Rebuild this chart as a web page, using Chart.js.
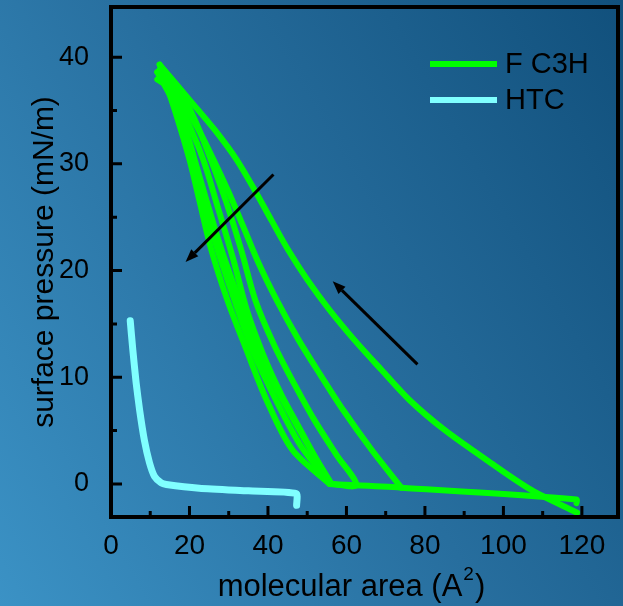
<!DOCTYPE html>
<html>
<head>
<meta charset="utf-8">
<script src="https://cdn.jsdelivr.net/npm/chart.js@4.4.1/dist/chart.umd.min.js"></script>
<style>
  html, body { margin: 0; padding: 0; }
  body {
    width: 623px; height: 606px; overflow: hidden;
    background: linear-gradient(60deg, #3b92c5 0%, #276e9e 50%, #11507c 100%);
  }
  canvas { display: block; }
</style>
</head>
<body>
<canvas id="isotherm" width="623" height="606"></canvas>
<script>
var comp1Area     = [118.8, 107.1, 95.7, 85.0, 76.05, 68.9, 62.0, 55.7, 50.1, 45.2, 40.9, 36.6, 32.0, 26.4, 20.0, 12.4];
var comp1Pressure = [-2.7, -0.56, 2.25, 5.06, 7.87, 10.7, 13.5, 16.3, 19.1, 21.9, 24.7, 27.55, 30.4, 33.2, 36.0, 39.3];
var exp1Area      = [12.4, 16.2, 20.0, 22.5, 25.6, 29.7, 34.5, 39.6, 46.2, 55.7];
var exp1Pressure  = [39.3, 35.1, 30.4, 26.6, 21.9, 17.2, 12.6, 7.9, 3.2, 0.0];
var baseArea      = [55.7, 74.0, 118.6, 118.6, 118.6];
var basePressure  = [0.0, -0.35, -1.45, -1.8, -1.45];
var comp2Area     = [74.0, 66.4, 59.2, 53.4, 47.8, 42.4, 37.6, 33.5, 29.9, 26.1, 22.0, 17.7, 13.6, 12.4];
var comp2Pressure = [-0.35, 3.2, 6.9, 10.2, 13.5, 17.1, 20.7, 24.3, 27.4, 30.4, 33.4, 36.0, 38.05, 38.8];
var exp2Area      = [12.9, 17.5, 21.3, 24.3, 28.2, 32.7, 37.3, 43.7, 50.1, 56.2];
var exp2Pressure  = [38.8, 35.1, 30.4, 26.6, 21.9, 17.2, 12.6, 7.9, 3.7, 0.0];
var comp3Area     = [56.2, 62.5, 57.5, 51.8, 46.8, 41.6, 36.8, 33.2, 29.2, 24.5, 20.1, 15.0, 11.8];
var comp3Pressure = [0.0, -0.1, 2.7, 6.0, 9.3, 13.0, 17.2, 21.9, 26.6, 31.3, 35.1, 37.9, 38.6];
var exp3Area      = [11.8, 16.8, 20.6, 23.5, 27.2, 31.5, 36.0, 42.0, 48.5, 56.0];
var exp3Pressure  = [38.6, 35.1, 30.4, 26.6, 21.9, 17.2, 12.6, 7.9, 3.5, 0.0];
var comp4Area     = [56.0, 52.5, 48.2, 43.5, 38.8, 34.6, 31.2, 27.4, 23.5, 19.3, 15.0, 11.8];
var comp4Pressure = [0.0, 2.2, 5.1, 8.3, 12.1, 16.3, 21.0, 25.7, 30.4, 34.1, 37.1, 37.9];

// HTC isotherm
var htcArea     = [4.9, 5.55, 6.4, 7.3, 8.5, 9.8, 11.1, 12.8, 14.1, 22.5, 35.0, 47.2, 47.3];
var htcPressure = [15.3, 12.6, 9.5, 6.9, 4.1, 2.0, 0.7, 0.1, -0.05, -0.4, -0.65, -0.9, -2.0];

// the two arrows (tail -> head), in data units
var arrowTailArea     = [41.4, 78.1];
var arrowTailPressure = [29.0, 11.2];
var arrowHeadArea     = [19.0, 56.5];
var arrowHeadPressure = [20.8, 19.0];

var areaTicks = [0, 20, 40, 60, 80, 100, 120];
var areaMinor = [10, 30, 50, 70, 90, 110];
var pressureTicks = [0, 10, 20, 30, 40];
var pressureMinor = [5, 15, 25, 35];

function pts(xs, ys) {
  return xs.map(function (x, i) { return { x: x, y: ys[i] }; });
}

var FONT = '"Liberation Sans", Arial, sans-serif';
var GREEN = '#00ff00', CYAN = '#80ffff';

function run(label, data, color, width, tension) {
  return {
    label: label, data: data, showLine: true,
    borderColor: color, backgroundColor: color, borderWidth: width,
    pointRadius: 0, borderJoinStyle: 'round', borderCapStyle: 'round', tension: tension
  };
}

var fc3hRuns = [
  [comp1Area, comp1Pressure], [exp1Area, exp1Pressure], [baseArea, basePressure],
  [comp2Area, comp2Pressure], [exp2Area, exp2Pressure],
  [comp3Area, comp3Pressure], [exp3Area, exp3Pressure], [comp4Area, comp4Pressure]
];
var datasets = fc3hRuns.map(function (r) { return run('F C3H', pts(r[0], r[1]), GREEN, 6, 0.3); });
datasets.push(run('HTC', pts(htcArea, htcPressure), CYAN, 7, 0.2));

var frame = {
  id: 'frame',
  afterDatasetsDraw: function (chart) {
    var ctx = chart.ctx, a = chart.chartArea, xs = chart.scales.x, ys = chart.scales.y;
    ctx.save();
    ctx.strokeStyle = '#000';
    ctx.fillStyle = '#000';

    // inward ticks
    ctx.lineWidth = 3;
    ctx.beginPath();
    areaTicks.forEach(function (v) { var p = xs.getPixelForValue(v); ctx.moveTo(p, a.bottom); ctx.lineTo(p, a.bottom - 11); });
    areaMinor.forEach(function (v) { var p = xs.getPixelForValue(v); ctx.moveTo(p, a.bottom); ctx.lineTo(p, a.bottom - 6); });
    pressureTicks.forEach(function (v) { var p = ys.getPixelForValue(v); ctx.moveTo(a.left, p); ctx.lineTo(a.left + 11, p); });
    pressureMinor.forEach(function (v) { var p = ys.getPixelForValue(v); ctx.moveTo(a.left, p); ctx.lineTo(a.left + 6, p); });
    ctx.stroke();

    // box
    ctx.lineWidth = 4;
    ctx.strokeRect(a.left, a.top, a.right - a.left, a.bottom - a.top);

    // arrows
    ctx.lineWidth = 3;
    arrowTailArea.forEach(function (v, i) {
      var x0 = xs.getPixelForValue(v), y0 = ys.getPixelForValue(arrowTailPressure[i]);
      var x1 = xs.getPixelForValue(arrowHeadArea[i]), y1 = ys.getPixelForValue(arrowHeadPressure[i]);
      var ang = Math.atan2(y1 - y0, x1 - x0);
      var bx = x1 - 13 * Math.cos(ang), by = y1 - 13 * Math.sin(ang);
      ctx.beginPath();
      ctx.moveTo(x0, y0);
      ctx.lineTo(bx, by);
      ctx.stroke();
      ctx.beginPath();
      ctx.moveTo(x1, y1);
      ctx.lineTo(bx + 5 * Math.sin(ang), by - 5 * Math.cos(ang));
      ctx.lineTo(bx - 5 * Math.sin(ang), by + 5 * Math.cos(ang));
      ctx.closePath();
      ctx.fill();
    });

    // legend, one entry per label
    ctx.font = '29px ' + FONT;
    ctx.textBaseline = 'middle';
    ctx.lineCap = 'butt';
    var seen = [];
    chart.data.datasets.forEach(function (ds) {
      if (seen.indexOf(ds.label) >= 0) return;
      var y = 64 + seen.length * 36;
      seen.push(ds.label);
      ctx.strokeStyle = ds.borderColor;
      ctx.lineWidth = 6;
      ctx.beginPath();
      ctx.moveTo(430, y);
      ctx.lineTo(497, y);
      ctx.stroke();
      ctx.fillStyle = '#000';
      ctx.fillText(ds.label, 505, y + 1);
    });

    // x axis title with raised 2
    ctx.textBaseline = 'alphabetic';
    ctx.font = '31px ' + FONT;
    var t1 = 'molecular area (A';
    var w1 = ctx.measureText(t1).width;
    var w2 = ctx.measureText('2').width * 0.62;
    var w3 = ctx.measureText(')').width;
    var x0 = (a.left + a.right) / 2 - 14 - (w1 + w2 + w3) / 2;
    ctx.fillText(t1, x0, 596);
    ctx.font = '19px ' + FONT;
    ctx.fillText('2', x0 + w1 + 1, 580);
    ctx.font = '31px ' + FONT;
    ctx.fillText(')', x0 + w1 + w2 + 2, 596);
    ctx.restore();
  }
};

new Chart(document.getElementById('isotherm'), {
  type: 'scatter',
  data: { datasets: datasets },
  options: {
    responsive: false,
    animation: false,
    layout: { padding: { top: 7, right: 5, left: 0, bottom: 0 } },
    plugins: { legend: { display: false }, tooltip: { enabled: false } },
    scales: {
      x: {
        type: 'linear', min: 0, max: 129.2,
        afterFit: function (s) { s.height = 89; s.paddingLeft = 0; s.paddingRight = 0; },
        afterBuildTicks: function (s) { s.ticks = areaTicks.map(function (v) { return { value: v }; }); },
        grid: { display: false },
        border: { display: false },
        ticks: { color: '#000', padding: 4, maxRotation: 0, font: { size: 28, family: FONT } },
        title: { display: false }
      },
      y: {
        type: 'linear', min: -3.1, max: 44.7,
        afterFit: function (s) { s.width = 111; s.paddingTop = 0; s.paddingBottom = 0; },
        afterBuildTicks: function (s) { s.ticks = pressureTicks.map(function (v) { return { value: v }; }); },
        grid: { display: false },
        border: { display: false },
        ticks: { color: '#000', padding: 14, font: { size: 27, family: FONT } },
        title: { display: true, text: 'surface pressure (mN/m)', color: '#000', padding: { top: 27, bottom: 0 }, font: { size: 30, family: FONT } }
      }
    }
  },
  plugins: [frame]
});
</script>
</body>
</html>
